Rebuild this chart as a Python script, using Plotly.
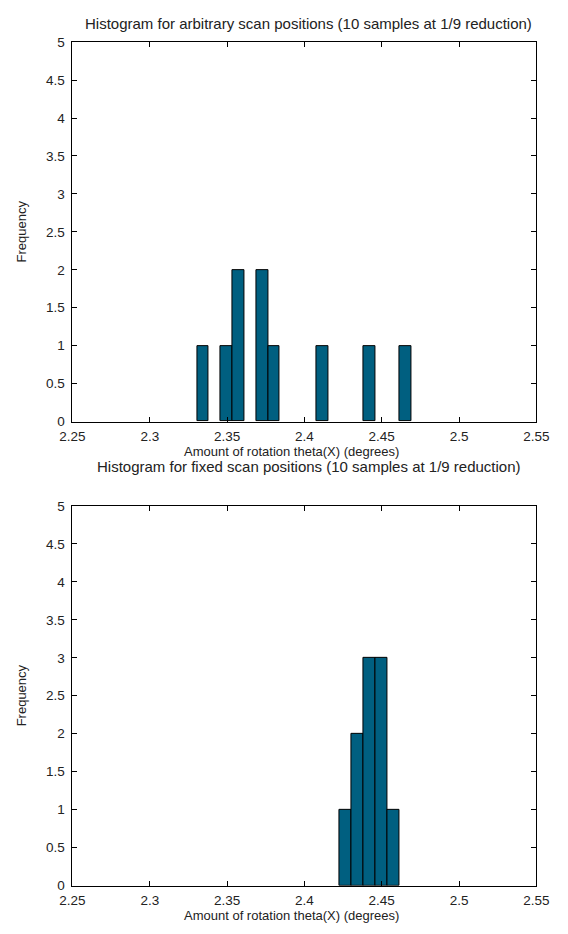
import plotly.graph_objects as go

# Histogram bins (centres, counts) for the two scan set-ups
arbitrary_centers = [2.3344, 2.3498, 2.3574, 2.3727, 2.3803, 2.4115, 2.4421, 2.4654]
arbitrary_counts = [1, 1, 2, 2, 1, 1, 1, 1]
arbitrary_bin_width = 0.0077

fixed_centers = [2.4264, 2.4341, 2.4420, 2.4500, 2.4578]
fixed_counts = [1, 2, 3, 3, 1]
fixed_bin_width = 0.0078

x_ticks = [2.25, 2.3, 2.35, 2.4, 2.45, 2.5, 2.55]
x_tick_text = ["2.25", "2.3", "2.35", "2.4", "2.45", "2.5", "2.55"]
y_ticks = [0, 0.5, 1, 1.5, 2, 2.5, 3, 3.5, 4, 4.5, 5]
y_tick_text = ["0", "0.5", "1", "1.5", "2", "2.5", "3", "3.5", "4", "4.5", "5"]

titles = [
    "Histogram for arbitrary scan positions (10 samples at 1/9 reduction)",
    "Histogram for fixed scan positions (10 samples at 1/9 reduction)",
]
x_label = "Amount of rotation theta(X) (degrees)"
y_label = "Frequency"

W, H = 568, 934
FONT = "Liberation Sans"
TEXT = "#222"
BAR_COLOR = "#005f80"


def px(x):
    return x / W


def py(y):
    return 1 - y / H


fig = go.Figure()
fig.add_trace(go.Bar(x=arbitrary_centers, y=arbitrary_counts, width=arbitrary_bin_width,
                     marker=dict(color=BAR_COLOR, line=dict(color="black", width=1)),
                     xaxis="x", yaxis="y", showlegend=False))
fig.add_trace(go.Bar(x=fixed_centers, y=fixed_counts, width=fixed_bin_width,
                     marker=dict(color=BAR_COLOR, line=dict(color="black", width=1)),
                     xaxis="x2", yaxis="y2", showlegend=False))

x_dom = [px(62.3), px(548.5)]
panels = [(35.7, 421.3), (507.0, 893.0)]

axis_common = dict(showline=True, linecolor="black", linewidth=1, mirror="ticks",
                   ticks="inside", ticklen=5, tickcolor="black", tickwidth=1,
                   showgrid=False, zeroline=False,
                   tickfont=dict(family=FONT, size=13.5, color=TEXT))

layout = dict(width=W, height=H, margin=dict(l=0, r=0, t=0, b=0),
              paper_bgcolor="white", plot_bgcolor="white", bargap=0,
              font=dict(family=FONT, color=TEXT))

for i, (top, bot) in enumerate(panels):
    sfx = "" if i == 0 else "2"
    layout["xaxis" + sfx] = dict(axis_common, domain=x_dom, range=[2.25, 2.55],
                                 tickvals=x_ticks, ticktext=x_tick_text,
                                 anchor="y" + sfx, ticklabelstandoff=2)
    layout["yaxis" + sfx] = dict(axis_common, domain=[py(bot), py(top)], range=[0, 5],
                                 tickvals=y_ticks, ticktext=y_tick_text,
                                 anchor="x" + sfx, ticklabelstandoff=4)

annotations = []
title_y = [17, 467]
xlabel_y = [452, 923]
for i, (top, bot) in enumerate(panels):
    annotations.append(dict(text=titles[i], x=px(310), y=py(title_y[i]), xref="paper", yref="paper",
                            showarrow=False, xanchor="center", yanchor="middle",
                            font=dict(family=FONT, size=15, color=TEXT)))
    annotations.append(dict(text=x_label, x=px(292), y=py(xlabel_y[i]), xref="paper", yref="paper",
                            showarrow=False, xanchor="center", yanchor="middle",
                            font=dict(family=FONT, size=13, color=TEXT)))
    annotations.append(dict(text=y_label, x=px(9), y=py((top + bot) / 2), xref="paper", yref="paper",
                            showarrow=False, xanchor="center", yanchor="middle", textangle=-90,
                            font=dict(family=FONT, size=13, color=TEXT)))
layout["annotations"] = annotations

fig.update_layout(**layout)
fig.write_html("out.html")
